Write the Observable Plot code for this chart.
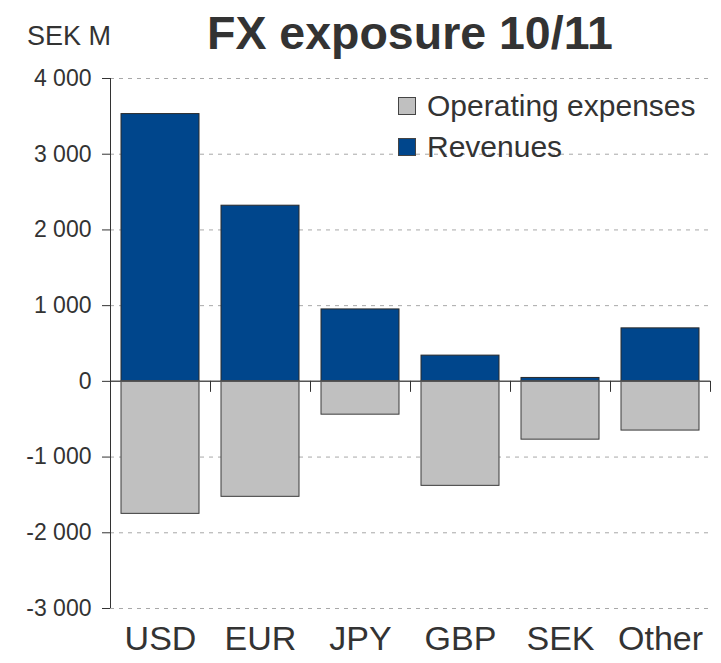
<!DOCTYPE html>
<html>
<head>
<meta charset="utf-8">
<script src="https://cdn.jsdelivr.net/npm/d3@7"></script>
<script src="https://cdn.jsdelivr.net/npm/@observablehq/plot@0.6"></script>
<style>
  html, body { margin: 0; padding: 0; background: #fff; }
  body { font-family: "Liberation Sans", Arial, sans-serif; color: #333; }
  #wrap { position: relative; width: 721px; height: 663px; overflow: hidden; background: #fff; }
  #head { position: relative; width: 721px; height: 60px; }
  #unit { position: absolute; left: 27px; top: 21px; font-size: 27px; line-height: 30px; color: #333; }
  #title { position: absolute; left: 207px; top: 6px; font-size: 46.5px; line-height: 54px; font-weight: bold; color: #333; white-space: nowrap; }
  #legend { position: absolute; left: 398px; top: 85px; font-size: 30px; color: #333; }
  .row { display: flex; align-items: center; height: 41px; white-space: nowrap; }
  .sw { width: 16px; height: 16px; border: 1px solid #444; margin-right: 11px; box-sizing: content-box; }
</style>
</head>
<body>
<div id="wrap">
  <div id="head">
    <div id="unit">SEK M</div>
    <div id="title">FX exposure 10/11</div>
  </div>
  <div id="chart"></div>
  <div id="legend"></div>
</div>
<script>
// ---- data ----
const categories = ["USD", "EUR", "JPY", "GBP", "SEK", "Other"];
const revenues = [3530, 2320, 950, 340, 45, 700];
const expenses = [-1750, -1525, -440, -1380, -770, -650];
const yTicks = [-3000, -2000, -1000, 0, 1000, 2000, 3000, 4000];
const seriesNames = ["Operating expenses", "Revenues"];
const seriesColors = ["#c0c0c0", "#00468c"];

const revData = categories.map((c, i) => ({cat: c, value: revenues[i]}));
const expData = categories.map((c, i) => ({cat: c, value: expenses[i]}));

const locale = d3.formatLocale({decimal: ",", thousands: " ", grouping: [3], currency: ["", ""], minus: "-"});
const fmt = locale.format(",d");

const H = 603, mTop = 18, mBottom = 55;
const yDomain = [d3.min(yTicks), d3.max(yTicks)];
const pxPerUnit = (H - mTop - mBottom) / (yDomain[1] - yDomain[0]);
const xTickLen = 11 / pxPerUnit;

const chart = Plot.plot({
  width: 721,
  height: H,
  marginLeft: 110,
  marginRight: 11,
  marginTop: mTop,
  marginBottom: mBottom,
  style: {background: "transparent", fontFamily: "'Liberation Sans', Arial, sans-serif", color: "#333", overflow: "visible"},
  x: {domain: categories, paddingInner: 0.22, paddingOuter: 0.11, label: null},
  y: {domain: yDomain, label: null},
  marks: [
    Plot.gridY(yTicks.filter(t => t !== 0), {stroke: "#a8a8a8", strokeOpacity: 1, strokeDasharray: "4 5", strokeWidth: 1}),
    Plot.barY(revData, {x: "cat", y1: 0, y2: "value", fill: seriesColors[1], stroke: "#2a2a2a", strokeWidth: 1}),
    Plot.barY(expData, {x: "cat", y1: 0, y2: "value", fill: seriesColors[0], stroke: "#3a3a3a", strokeWidth: 1}),
    Plot.ruleY([0], {stroke: "#555", strokeWidth: 1.5}),
    Plot.ruleX(categories, {x: d => d, dx: 50, y1: 0, y2: -xTickLen, stroke: "#333", strokeWidth: 1}),
    Plot.ruleX([categories[0]], {x: d => d, dx: -50, y1: yDomain[0], y2: yDomain[1], stroke: "#333", strokeWidth: 1}),
    Plot.axisY({ticks: yTicks, tickFormat: fmt, tickSize: 8, tickPadding: 11, fontSize: 23, stroke: "#333", fill: "#333"}),
    Plot.axisX({tickSize: 0, tickPadding: 17, fontSize: 34, fill: "#333"})
  ]
});
document.getElementById("chart").appendChild(chart);

// legend
const legend = document.getElementById("legend");
seriesNames.forEach((name, i) => {
  const row = document.createElement("div");
  row.className = "row";
  const sw = document.createElement("div");
  sw.className = "sw";
  sw.style.background = seriesColors[i];
  const t = document.createElement("span");
  t.textContent = name;
  row.appendChild(sw);
  row.appendChild(t);
  legend.appendChild(row);
});
</script>
</body>
</html>
